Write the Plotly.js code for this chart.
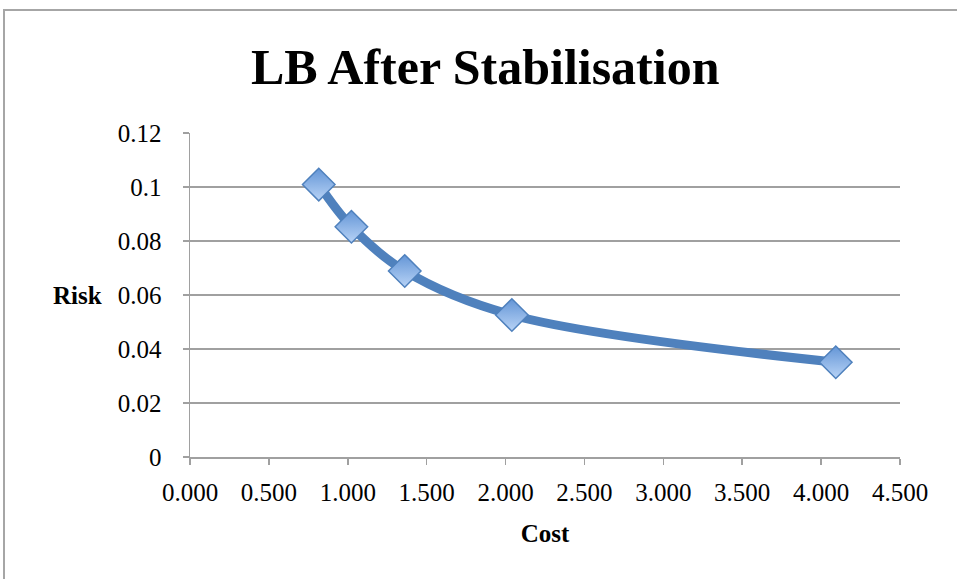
<!DOCTYPE html>
<html>
<head>
<meta charset="utf-8">
<script src="https://cdn.plot.ly/plotly-3.0.1.min.js"></script>
<style>
html,body{margin:0;padding:0;background:#fff;}
#chart{width:957px;height:579px;}
</style>
</head>
<body>
<div id="chart"></div>
<script>
const cost = [0.816, 1.023, 1.361, 2.040, 4.093];
const risk = [0.1009, 0.0853, 0.0689, 0.0526, 0.0351];
const chartTitle = "LB After Stabilisation";
const xTitle = "Cost";
const yTitle = "Risk";

const serif = "Liberation Serif, DejaVu Serif, serif";

const trace = {
  x: cost,
  y: risk,
  type: "scatter",
  mode: "lines+markers",
  line: {shape: "spline", smoothing: 1, color: "#4f81bd", width: 9},
  marker: {symbol: "diamond", size: 25, color: "#6395d6",
           gradient: {type: "vertical", color: "#b8d3f6"},
           line: {color: "#4f81bd", width: 1.5}},
  hoverinfo: "x+y",
  showlegend: false
};

const layout = {
  width: 957, height: 579,
  margin: {l: 190, r: 57, t: 133, b: 122},
  paper_bgcolor: "#ffffff",
  plot_bgcolor: "#ffffff",
  title: {text: "<b>" + chartTitle + "</b>", font: {family: serif, size: 50, color: "#000"}, x: 0.507, xanchor: "center", y: 0.885, yanchor: "middle"},
  xaxis: {
    range: [0, 4.5], dtick: 0.5, tick0: 0, tickformat: ".3f",
    showgrid: false, zeroline: false,
    showline: true, linecolor: "#a0a0a0", linewidth: 1.5,
    ticks: "outside", ticklen: 6, tickcolor: "#a0a0a0", tickwidth: 1.5,
    tickfont: {family: serif, size: 25, color: "#000"},
    ticklabelstandoff: 6,
    title: {text: "<b>" + xTitle + "</b>", font: {family: serif, size: 25, color: "#000"}, standoff: 20}
  },
  yaxis: {
    range: [0, 0.12], dtick: 0.02, tick0: 0,
    showgrid: true, gridcolor: "#a0a0a0", gridwidth: 1.5,
    zeroline: false,
    showline: true, linecolor: "#a0a0a0", linewidth: 1.5,
    ticks: "outside", ticklen: 6, tickcolor: "#a0a0a0", tickwidth: 1.5,
    tickfont: {family: serif, size: 25, color: "#000"},
    ticklabelstandoff: 16
  },
  annotations: [{
    text: "<b>" + yTitle + "</b>", xref: "paper", yref: "paper",
    x: (104 - 190) / 710, y: 0.5, xanchor: "right", yanchor: "middle",
    showarrow: false, font: {family: serif, size: 25, color: "#000"}
  }],
  shapes: [{
    type: "rect", xref: "paper", yref: "paper",
    x0: (4 - 190) / 710, x1: 1.2, y0: -0.6, y1: (457 - 10) / 324,
    line: {color: "#a6a6a6", width: 2}, fillcolor: "rgba(0,0,0,0)", layer: "below"
  }]
};

Plotly.newPlot("chart", [trace], layout, {displayModeBar: false, staticPlot: true});
</script>
</body>
</html>
